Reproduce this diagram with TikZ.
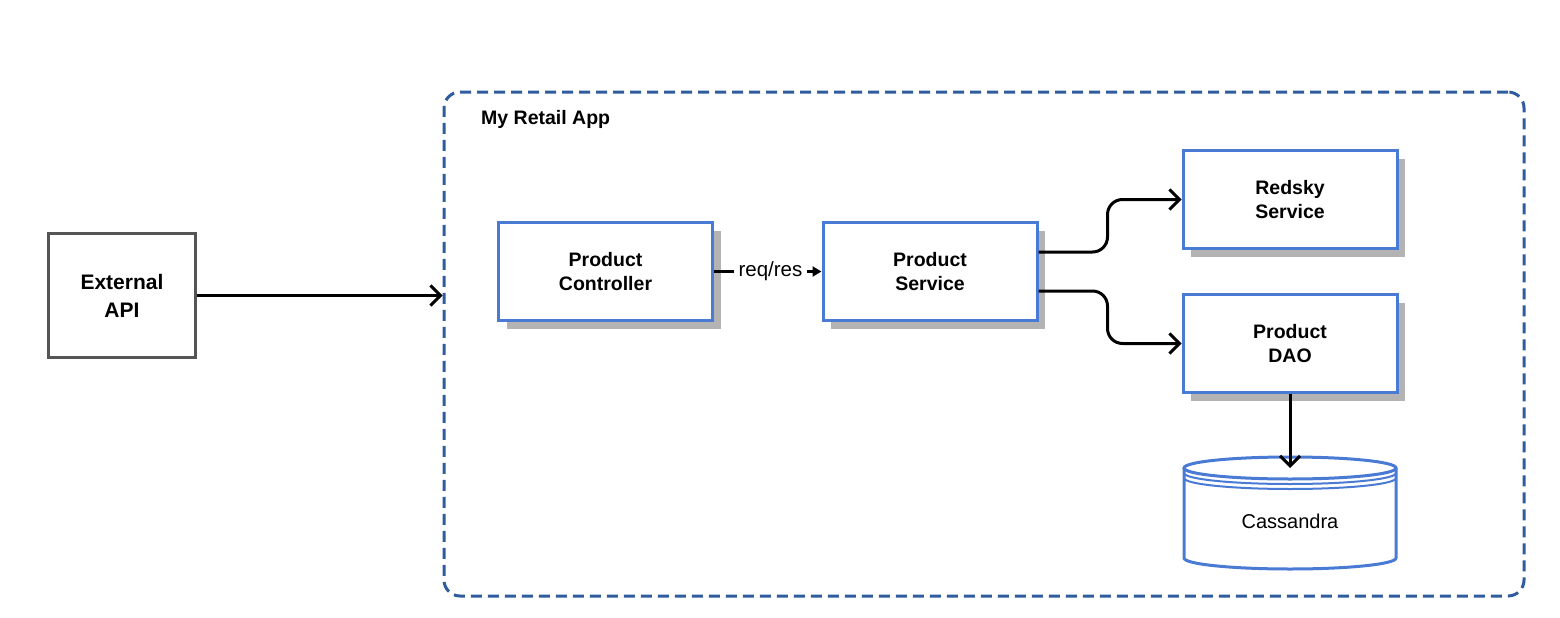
\documentclass[tikz,border=0pt]{standalone}
\usepackage{fontspec}
\setmainfont{Liberation Sans}
\usetikzlibrary{arrows.meta,shadows,calc}
\definecolor{boxblue}{HTML}{4A7BD4}
\definecolor{dashblue}{HTML}{2E5C9E}
\definecolor{shade}{HTML}{B3B3B3}
\definecolor{extgray}{HTML}{555555}
\begin{document}
\begin{tikzpicture}[x=1pt,y=-1pt,
  comp/.style={draw=boxblue, line width=3pt, fill=white, minimum width=214pt, minimum height=98pt,
    align=center, inner sep=0pt, font=\fontsize{19.5}{24}\selectfont\bfseries,
    drop shadow={shadow xshift=8pt, shadow yshift=-8pt, fill=shade, opacity=1}},
  conn/.style={line width=3pt, -{Straight Barb[length=10pt,width=20pt]}},
  cyl/.style={draw=boxblue, line width=3pt},
  cylline/.style={draw=boxblue, line width=2pt}]
\useasboundingbox (0,0) rectangle (1560,618);
% container
\node[draw=dashblue, line width=3pt, dash pattern=on 11pt off 6pt, rounded corners=16pt,
      minimum width=1080pt, minimum height=504pt, inner sep=0pt] (app) at (984,344) {};
\node[anchor=west, inner sep=0pt, font=\fontsize{19.5}{24}\selectfont\bfseries] (title) at (481,119) {My Retail App};
% external
\node[draw=extgray, line width=3pt, fill=white, minimum width=147pt, minimum height=124pt, align=center,
      inner sep=0pt, font=\fontsize{21}{28}\selectfont\bfseries] (ext) at (122,295.5) {External\\API};
% components
\node[comp] (ctrl) at (605.5,271.5) {Product\\Controller};
\node[comp] (svc) at (930,271.5) {Product\\Service};
\node[comp] (red) at (1290,199.5) {Redsky\\Service};
\node[comp] (dao) at (1290,343.5) {Product\\DAO};
% cylinder
\fill[white] (1184,468) -- (1184,558) arc[start angle=180,end angle=360,x radius=106pt,y radius=11pt] -- (1396,468) -- cycle;
\draw[cyl] (1184,468) -- (1184,558) arc[start angle=180,end angle=360,x radius=106pt,y radius=11pt] -- (1396,468);
\draw[cyl, fill=white] (1290,468) ellipse [x radius=106pt, y radius=11pt];
\draw[cylline] (1184,473) arc[start angle=180,end angle=360,x radius=106pt,y radius=11pt];
\draw[cylline] (1184,478) arc[start angle=180,end angle=360,x radius=106pt,y radius=11pt];
\node[minimum width=212pt, minimum height=100pt, inner sep=0pt, font=\fontsize{20}{24}\selectfont] (cass) at (1290,521) {Cassandra};
\coordinate (casstop) at (1290,468);
% connectors
\draw[conn] (ext.east) -- (app.west |- ext.east);
\draw[line width=3pt, -{Triangle[length=9pt,width=10pt]}] (ctrl.east) -- (svc.west);
\node[fill=white, inner xsep=5pt, inner ysep=2pt, font=\fontsize{20.5}{22}\selectfont] (rr)
  at ($(ctrl.east)!0.525!(svc.west)$) {req/res};
\draw[conn, rounded corners=15pt] ($(svc.east)+(0,-19.5)$) -| ($(red.west)+(-74,0)$) -- (red.west);
\draw[conn, rounded corners=15pt] ($(svc.east)+(0,19.5)$) -| ($(dao.west)+(-74,0)$) -- (dao.west);
\draw[conn] (dao.south) -- (casstop);
\end{tikzpicture}
\end{document}
